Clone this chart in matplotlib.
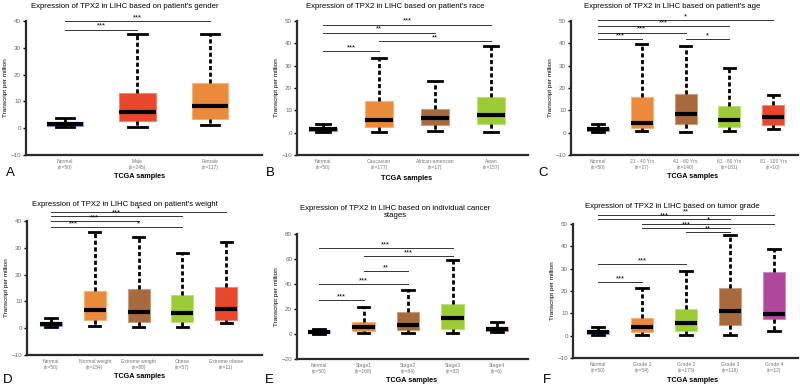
import matplotlib
matplotlib.use('Agg')
import matplotlib.pyplot as plt

plt.rcParams['font.family'] = ['Liberation Sans', 'DejaVu Sans']

# ---- data (box stats: whisker low, q1, median, q3, whisker high) ----
normal_stats = [0.3, 0.8, 1.5, 2.3, 3.7]

a_labels = ['Normal\n(n=50)', 'Male\n(n=245)', 'Female\n(n=117)']
a_stats = [normal_stats, [0.5, 2.6, 6.0, 13.3, 35.0], [1.2, 3.4, 8.2, 16.8, 35.0]]
a_sig = [(0, 1, 36.8, '***'), (0, 2, 40.0, '***')]

b_labels = ['Normal\n(n=50)', 'Caucasian\n(n=177)', 'African-american\n(n=17)', 'Asian\n(n=157)']
b_stats = [normal_stats, [0.3, 2.5, 5.8, 14.2, 33.3], [0.8, 3.5, 6.5, 10.5, 23.0],
           [0.3, 3.8, 8.0, 16.0, 39.0]]
b_sig = [(0, 1, 36.6, '***'), (1, 3, 40.9, '**'), (0, 2, 44.8, '**'), (0, 3, 48.4, '***')]

c_labels = ['Normal\n(n=50)', '21 - 40 Yrs\n(n=27)', '41 - 60 Yrs\n(n=140)',
            '61 - 80 Yrs\n(n=181)', '81 - 100 Yrs\n(n=10)']
c_stats = [normal_stats, [0.7, 2.3, 4.5, 16.0, 39.5], [0.3, 3.7, 8.3, 17.2, 39.0],
           [0.7, 2.7, 5.5, 12.0, 29.0], [1.5, 3.5, 6.8, 12.5, 17.0]]
c_sig = [(0, 1, 41.8, '***'), (2, 3, 41.8, '*'), (0, 2, 44.8, '***'),
         (0, 3, 47.8, '***'), (0, 4, 50.3, '*')]

d_labels = ['Normal\n(n=50)', 'Normal weight\n(n=154)', 'Extreme weight\n(n=88)',
            'Obese\n(n=57)', 'Extreme obese\n(n=11)']
d_stats = [normal_stats, [0.8, 3.0, 6.7, 13.8, 36.0], [0.5, 2.5, 6.2, 14.5, 34.2],
           [0.5, 2.5, 5.5, 12.5, 28.2], [2.0, 3.0, 7.3, 15.2, 32.0]]
d_sig = [(0, 1, 37.8, '***'), (1, 3, 37.8, '*'), (0, 2, 39.9, '***'),
         (0, 3, 41.9, '***'), (0, 4, 43.3, '*')]

e_labels = ['Normal\n(n=50)', 'Stage1\n(n=168)', 'Stage2\n(n=84)', 'Stage3\n(n=82)', 'Stage4\n(n=6)']
e_stats = [normal_stats, [0.5, 2.5, 5.5, 9.5, 21.5], [0.5, 3.0, 7.2, 17.8, 35.0],
           [0.8, 4.0, 13.0, 24.0, 59.0], [1.5, 2.8, 4.0, 6.0, 10.0]]
e_sig = [(0, 1, 27.2, '***'), (0, 2, 40.0, '***'), (1, 2, 50.1, '**'),
         (1, 3, 62.4, '***'), (0, 3, 68.5, '***')]

f_labels = ['Normal\n(n=50)', 'Grade 1\n(n=54)', 'Grade 2\n(n=173)', 'Grade 3\n(n=118)', 'Grade 4\n(n=12)']
f_stats = [normal_stats, [0.5, 1.5, 4.0, 7.8, 21.5], [0.3, 2.3, 5.5, 12.0, 28.8],
           [0.5, 5.0, 11.2, 21.5, 45.0], [2.0, 7.3, 9.7, 28.5, 39.0]]
f_sig = [(0, 1, 24.0, '***'), (0, 2, 32.0, '***'), (2, 3, 46.3, '**'), (1, 3, 48.2, '***'),
         (1, 4, 50.2, '*'), (0, 3, 52.1, '***'), (0, 4, 54.0, '**')]

BLUE = '#3f74d4'
RED = '#e8472b'
ORANGE = '#ec8a3b'
BROWN = '#a86a3c'
GREEN = '#9ccc35'
MAGENTA = '#b0479c'

fig = plt.figure(figsize=(8, 3.87), dpi=100)
W, H = 800, 387


def lighter(c, f=0.35):
    r, g, b = matplotlib.colors.to_rgb(c)
    return (r + (1 - r) * f, g + (1 - g) * f, b + (1 - b) * f)


def panel(px, labels, stats, colors, sig, ylim, yticks, title, title_xy, letter, letter_xy, xlab_xy):
    left, right, top, bottom, first, sp = px
    ax = fig.add_axes([left / W, 1 - bottom / H, (right - left) / W, (bottom - top) / H])
    bxp_stats = [dict(whislo=s[0], q1=s[1], med=s[2], q3=s[3], whishi=s[4], fliers=[])
                 for s in stats]
    pos = list(range(1, len(stats) + 1))
    art = ax.bxp(bxp_stats, positions=pos, widths=0.5, patch_artist=True,
                 showfliers=False,
                 whiskerprops=dict(color='black', linewidth=2.0, linestyle=(0, (1.5, 0.9))),
                 capprops=dict(color='black', linewidth=2.0),
                 medianprops=dict(color='black', linewidth=3.0),
                 capwidths=0.26)
    for patch, c in zip(art['boxes'], colors):
        patch.set_facecolor(c)
        patch.set_edgecolor(lighter(c))
        patch.set_linewidth(0.8)
    ax.set_xlim(1 - (first - left) / sp, 1 + (right - first) / sp)
    ax.set_ylim(*ylim)
    ax.set_yticks(yticks)
    ax.set_xticks(pos)
    ax.set_xticklabels(labels, fontsize=3.6, color='#777777', linespacing=1.3)
    ax.tick_params(axis='x', length=0, pad=3)
    ax.tick_params(axis='y', labelsize=4.5, labelcolor='#666666', length=2, width=1, pad=1.5)
    for s in ['top', 'right']:
        ax.spines[s].set_visible(False)
    for s in ['left', 'bottom']:
        ax.spines[s].set_linewidth(1.6)
        ax.spines[s].set_color('#2a2a2a')
    ax.set_ylabel('Transcript per million', fontsize=4.6, labelpad=2)
    for i, j, y, lab in sig:
        ax.plot([i + 1, j + 1], [y, y], color='#333333', linewidth=0.7, clip_on=False)
        ax.text((i + j) / 2 + 1, y, lab, ha='center', va='bottom', fontsize=5.5, clip_on=False)
    fig.text(title_xy[0] / W, 1 - title_xy[1] / H, title, ha='center', va='center',
             fontsize=5.6, linespacing=1.1)
    fig.text(letter_xy[0] / W, 1 - letter_xy[1] / H, letter, ha='center', va='center', fontsize=9.5)
    fig.text(xlab_xy[0] / W, 1 - xlab_xy[1] / H, 'TCGA samples', ha='center', va='center',
             fontsize=5.2, fontweight='bold')
    return ax


panel((26, 262, 21, 155, 65, 72.5), a_labels, a_stats, [BLUE, RED, ORANGE], a_sig,
      (-10, 40), range(-10, 41, 10),
      "Expression of TPX2 in LIHC based on patient's gender", (125, 6), 'A', (10, 173), (140, 177))
panel((297, 528, 21, 155, 323, 56), b_labels, b_stats, [BLUE, ORANGE, BROWN, GREEN], b_sig,
      (-10, 50), range(-10, 51, 10),
      "Expression of TPX2 in LIHC based on patient's race", (395, 6), 'B', (270, 173), (407, 178))
panel((571, 798, 21, 155, 598, 43.8), c_labels, c_stats, [BLUE, ORANGE, BROWN, GREEN, RED], c_sig,
      (-10, 50), range(-10, 51, 10),
      "Expression of TPX2 in LIHC based on patient's age", (672, 6), 'C', (543, 173), (693, 177))
panel((27, 262, 221, 355, 51, 43.8), d_labels, d_stats, [BLUE, ORANGE, BROWN, GREEN, RED], d_sig,
      (-10, 40), range(-10, 41, 10),
      "Expression of TPX2 in LIHC based on patient's weight", (125, 204), 'D', (8, 380), (140, 376))
panel((297, 528, 234, 359, 319, 44.5), e_labels, e_stats, [BLUE, ORANGE, BROWN, GREEN, RED], e_sig,
      (-20, 80), range(-20, 81, 20),
      "Expression of TPX2 in LIHC based on individual cancer\nstages", (395, 212), 'E', (269, 380),
      (412, 380))
panel((573, 798, 224, 358, 598, 44), f_labels, f_stats, [BLUE, ORANGE, GREEN, BROWN, MAGENTA], f_sig,
      (-10, 50), range(-10, 51, 10),
      "Expression of TPX2 in LIHC based on tumor grade", (672, 207), 'F', (547, 380), (693, 380))

fig.savefig('out.png', dpi=100)
